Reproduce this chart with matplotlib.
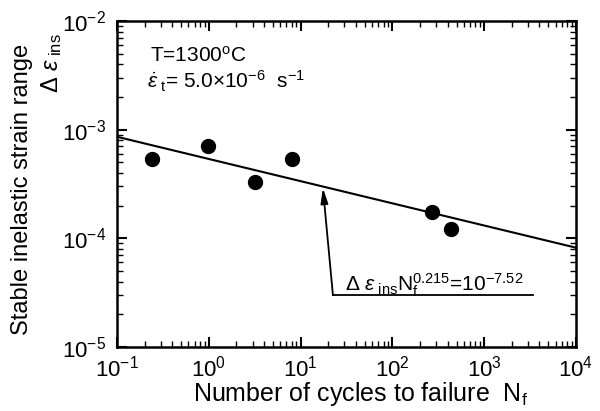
import matplotlib
matplotlib.use("Agg")
import matplotlib.pyplot as plt
import numpy as np
from matplotlib.ticker import LogLocator, NullFormatter

# data
cycles = [0.24, 0.98, 3.2, 8.1, 270, 435]
strain = [5.4e-4, 7.1e-4, 3.3e-4, 5.4e-4, 1.75e-4, 1.22e-4]
fit_n = [0.1, 1e4]
fit_strain = [8.6e-4, 8.2e-5]
arrow_tip = (17.5, 2.9e-4)
arrow_base = (22.5, 3.0e-5)
leader_end = 3400

plt.rcParams.update({
    "font.family": ["Liberation Sans", "DejaVu Sans"],
    "mathtext.fontset": "custom",
    "mathtext.rm": "Liberation Sans",
    "mathtext.it": "Liberation Sans:italic",
    "mathtext.bf": "Liberation Sans:bold",
    "axes.unicode_minus": False,
})

fig = plt.figure(figsize=(6.0, 4.11), dpi=100)
ax = fig.add_axes([117 / 600, 1 - 347 / 411, 459 / 600, 326 / 411])

ax.plot(fit_n, fit_strain, color="black", linewidth=1.5)
ax.plot(cycles, strain, "o", color="black", markersize=10)

ax.annotate("", xy=arrow_tip, xytext=arrow_base,
            arrowprops=dict(arrowstyle="-|>,head_length=0.9,head_width=0.22",
                            color="black", linewidth=1.3, shrinkA=0, shrinkB=0))
ax.plot([arrow_base[0], leader_end], [arrow_base[1], arrow_base[1]],
        color="black", linewidth=1.3)

ax.set_xscale("log")
ax.set_yscale("log")
ax.set_xlim(1e-1, 1e4)
ax.set_ylim(1e-5, 1e-2)

for axis in (ax.xaxis, ax.yaxis):
    axis.set_major_locator(LogLocator(base=10, numticks=10))
    axis.set_minor_locator(LogLocator(base=10, subs=np.arange(2, 10), numticks=10))
    axis.set_minor_formatter(NullFormatter())

ax.tick_params(which="both", direction="in", top=True, right=True)
ax.tick_params(which="major", length=7, width=1.5, labelsize=16)
ax.tick_params(axis="x", which="major", pad=6)
ax.tick_params(axis="y", which="major", pad=8)
ax.tick_params(which="minor", length=4, width=1.0)
for s in ax.spines.values():
    s.set_linewidth(1.8)

ax.text(150 / 600, 1 - 62 / 411, "T=1300$^{\\rm o}$C", transform=fig.transFigure,
        fontsize=15)
ax.text(147 / 600, 1 - 88 / 411,
        "$\\dot{\\varepsilon}_{\\rm\\ t}$= 5.0$\\times$10$^{-6}$  s$^{-1}$",
        transform=fig.transFigure, fontsize=15)
ax.text(345 / 600, 1 - 291 / 411,
        "$\\Delta\\ \\varepsilon_{\\rm\\ ins}$N$_{\\rm f}^{\\rm 0.215}$=10$^{-7.52}$",
        transform=fig.transFigure, fontsize=15)

fig.text(22 / 600, 1 - 189 / 411, "Stable inelastic strain range", rotation=90,
         fontsize=17, ha="center", va="center")
fig.text(52 / 600, 1 - 63 / 411, "$\\Delta\\ \\varepsilon_{\\rm\\ ins}$", rotation=90,
         fontsize=17, ha="center", va="center")
fig.text(361 / 600, 1 - 394 / 411, "Number of cycles to failure  N$_{\\rm f}$",
         fontsize=18, ha="center", va="center")

fig.savefig("out.png", dpi=100)
